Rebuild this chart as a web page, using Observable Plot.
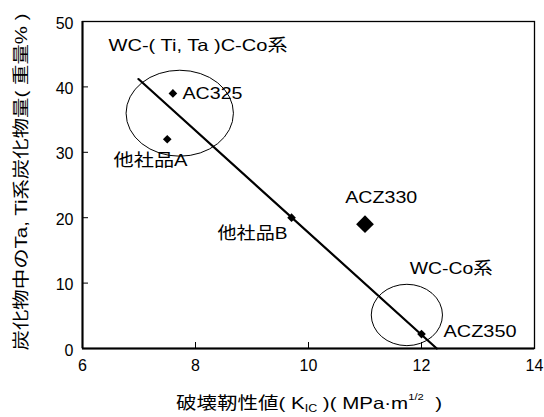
<!DOCTYPE html>
<html><head><meta charset="utf-8">
<script src="https://cdn.jsdelivr.net/npm/d3@7"></script>
<script src="https://cdn.jsdelivr.net/npm/@observablehq/plot@0.6"></script>
<style>body{margin:0;background:#fff}</style>
</head><body><div id="chart"></div>
<script>
// ---- data ----
const pointNames = ["AC325", "他社品A", "他社品B", "ACZ330", "ACZ350"];
const pointX = [7.6, 7.5, 9.7, 11.0, 12.0];
const pointY = [39, 32, 20, 19, 2.2];
const pointBig = [false, false, false, true, false];

const trendX = [6.99, 12.27];
const trendY = [41.2, 0];

const groupNames = ["WC-( Ti, Ta )C-Co系", "WC-Co系"];
const groupCx = [7.73, 11.75];
const groupCy = [35.9, 5.05];
const groupRx = [0.95, 0.63];
const groupRy = [6.57, 4.69];

const labelTexts = ["WC-( Ti, Ta )C-Co系", "AC325", "他社品A", "他社品B", "ACZ330", "WC-Co系", "ACZ350"];
const labelX = [6.46, 7.77, 6.55, 8.39, 10.65, 11.79, 12.39];
const labelY = [46.3, 39.0, 28.7, 17.6, 23.1, 12.2, 2.6];

const xTicks = [6, 8, 10, 12, 14];
const yTicks = [0, 10, 20, 30, 40, 50];

const yTitle = "炭化物中のTa, Ti系炭化物量( 重量% )";

// ---- build ----
const points = pointNames.map((n, i) => ({name: n, x: pointX[i], y: pointY[i], big: pointBig[i]}));
const trend = trendX.map((x, i) => ({x, y: trendY[i]}));
const labels = labelTexts.map((t, i) => ({text: t, x: labelX[i], y: labelY[i]}));

const W = 544, H = 417, mL = 82, mR = 10, mT = 21, mB = 69;
const innerW = W - mL - mR, innerH = H - mT - mB;
const FONT = "'Liberation Sans', Arial, 'Noto Sans CJK JP', sans-serif";

const ellipses = (index, scales) => {
  const g = d3.create("svg:g");
  for (let i = 0; i < groupCx.length; i++) {
    const cx = scales.x(groupCx[i]), cy = scales.y(groupCy[i]);
    g.append("ellipse")
      .attr("cx", cx).attr("cy", cy)
      .attr("rx", Math.abs(scales.x(groupCx[i] + groupRx[i]) - cx))
      .attr("ry", Math.abs(scales.y(groupCy[i] + groupRy[i]) - cy))
      .attr("fill", "none").attr("stroke", "black").attr("stroke-width", 1);
  }
  return g.node();
};

const plot = Plot.plot({
  width: W, height: H,
  marginLeft: mL, marginRight: mR, marginTop: mT, marginBottom: mB,
  style: {fontFamily: FONT, fontSize: "16px", color: "black", background: "white"},
  x: {domain: [6, 14]},
  y: {domain: [0, 50]},
  marks: [
    Plot.axisX({ticks: xTicks, tickSize: 0, tickPadding: 11, label: null, fill: "black", fontSize: 16}),
    Plot.axisY({ticks: yTicks, tickSize: 0, tickPadding: 9, dy: 2, label: null, fill: "black", fontSize: 16}),
    Plot.ruleX(xTicks, {x: d => d, insetTop: innerH - 6, stroke: "black", strokeWidth: 1}),
    Plot.ruleY(yTicks, {y: d => d, insetRight: innerW - 6, stroke: "black", strokeWidth: 1}),
    Plot.frame({stroke: "black", strokeWidth: 1.3}),
    Plot.ruleX([6], {stroke: "black", strokeWidth: 2}),
    Plot.ruleY([0], {stroke: "black", strokeWidth: 2}),
    ellipses,
    Plot.line(trend, {x: "x", y: "y", stroke: "black", strokeWidth: 2.2}),
    Plot.dot(points.filter(d => !d.big), {x: "x", y: "y", symbol: "diamond2", fill: "black", r: 3.9}),
    Plot.dot(points.filter(d => d.big), {x: "x", y: "y", symbol: "diamond2", fill: "black", r: 8}),
    Plot.text(labels, {x: "x", y: "y", text: "text", textAnchor: "start", lineAnchor: "middle", fontSize: 16.5, fill: "black"})
  ]
});

const svg = d3.select(plot);
svg.selectAll('g[aria-label="x-axis tick label"] text, g[aria-label="y-axis tick label"] text')
  .style("font-size", "16px").attr("fill", "black");

const labelWidths = [179, 60, 74, 70, 72, 83, 73];
svg.selectAll('g[aria-label="text"] text').each(function(d, i) {
  d3.select(this).attr("textLength", labelWidths[i]).attr("lengthAdjust", "spacingAndGlyphs");
});

// y-axis title
svg.append("text")
  .attr("transform", "translate(21,182) rotate(-90)")
  .attr("text-anchor", "middle").attr("dominant-baseline", "central")
  .attr("font-size", 16.5).attr("fill", "black")
  .attr("textLength", 337).attr("lengthAdjust", "spacingAndGlyphs")
  .text(yTitle);

// x-axis title with subscript/superscript
const xt = svg.append("text")
  .attr("x", 309).attr("y", 409)
  .attr("text-anchor", "middle")
  .attr("font-size", 16.5).attr("fill", "black")
  .attr("textLength", 266).attr("lengthAdjust", "spacingAndGlyphs");
xt.append("tspan").text("破壊靭性値( K");
xt.append("tspan").attr("font-size", 10).attr("dy", 3).text("IC");
xt.append("tspan").attr("dy", -3).text(" )( MPa·m");
xt.append("tspan").attr("font-size", 9).attr("dy", -9).text("1/2");
xt.append("tspan").attr("dy", 9).text("  )");

document.getElementById("chart").appendChild(plot);
</script>
</body></html>
